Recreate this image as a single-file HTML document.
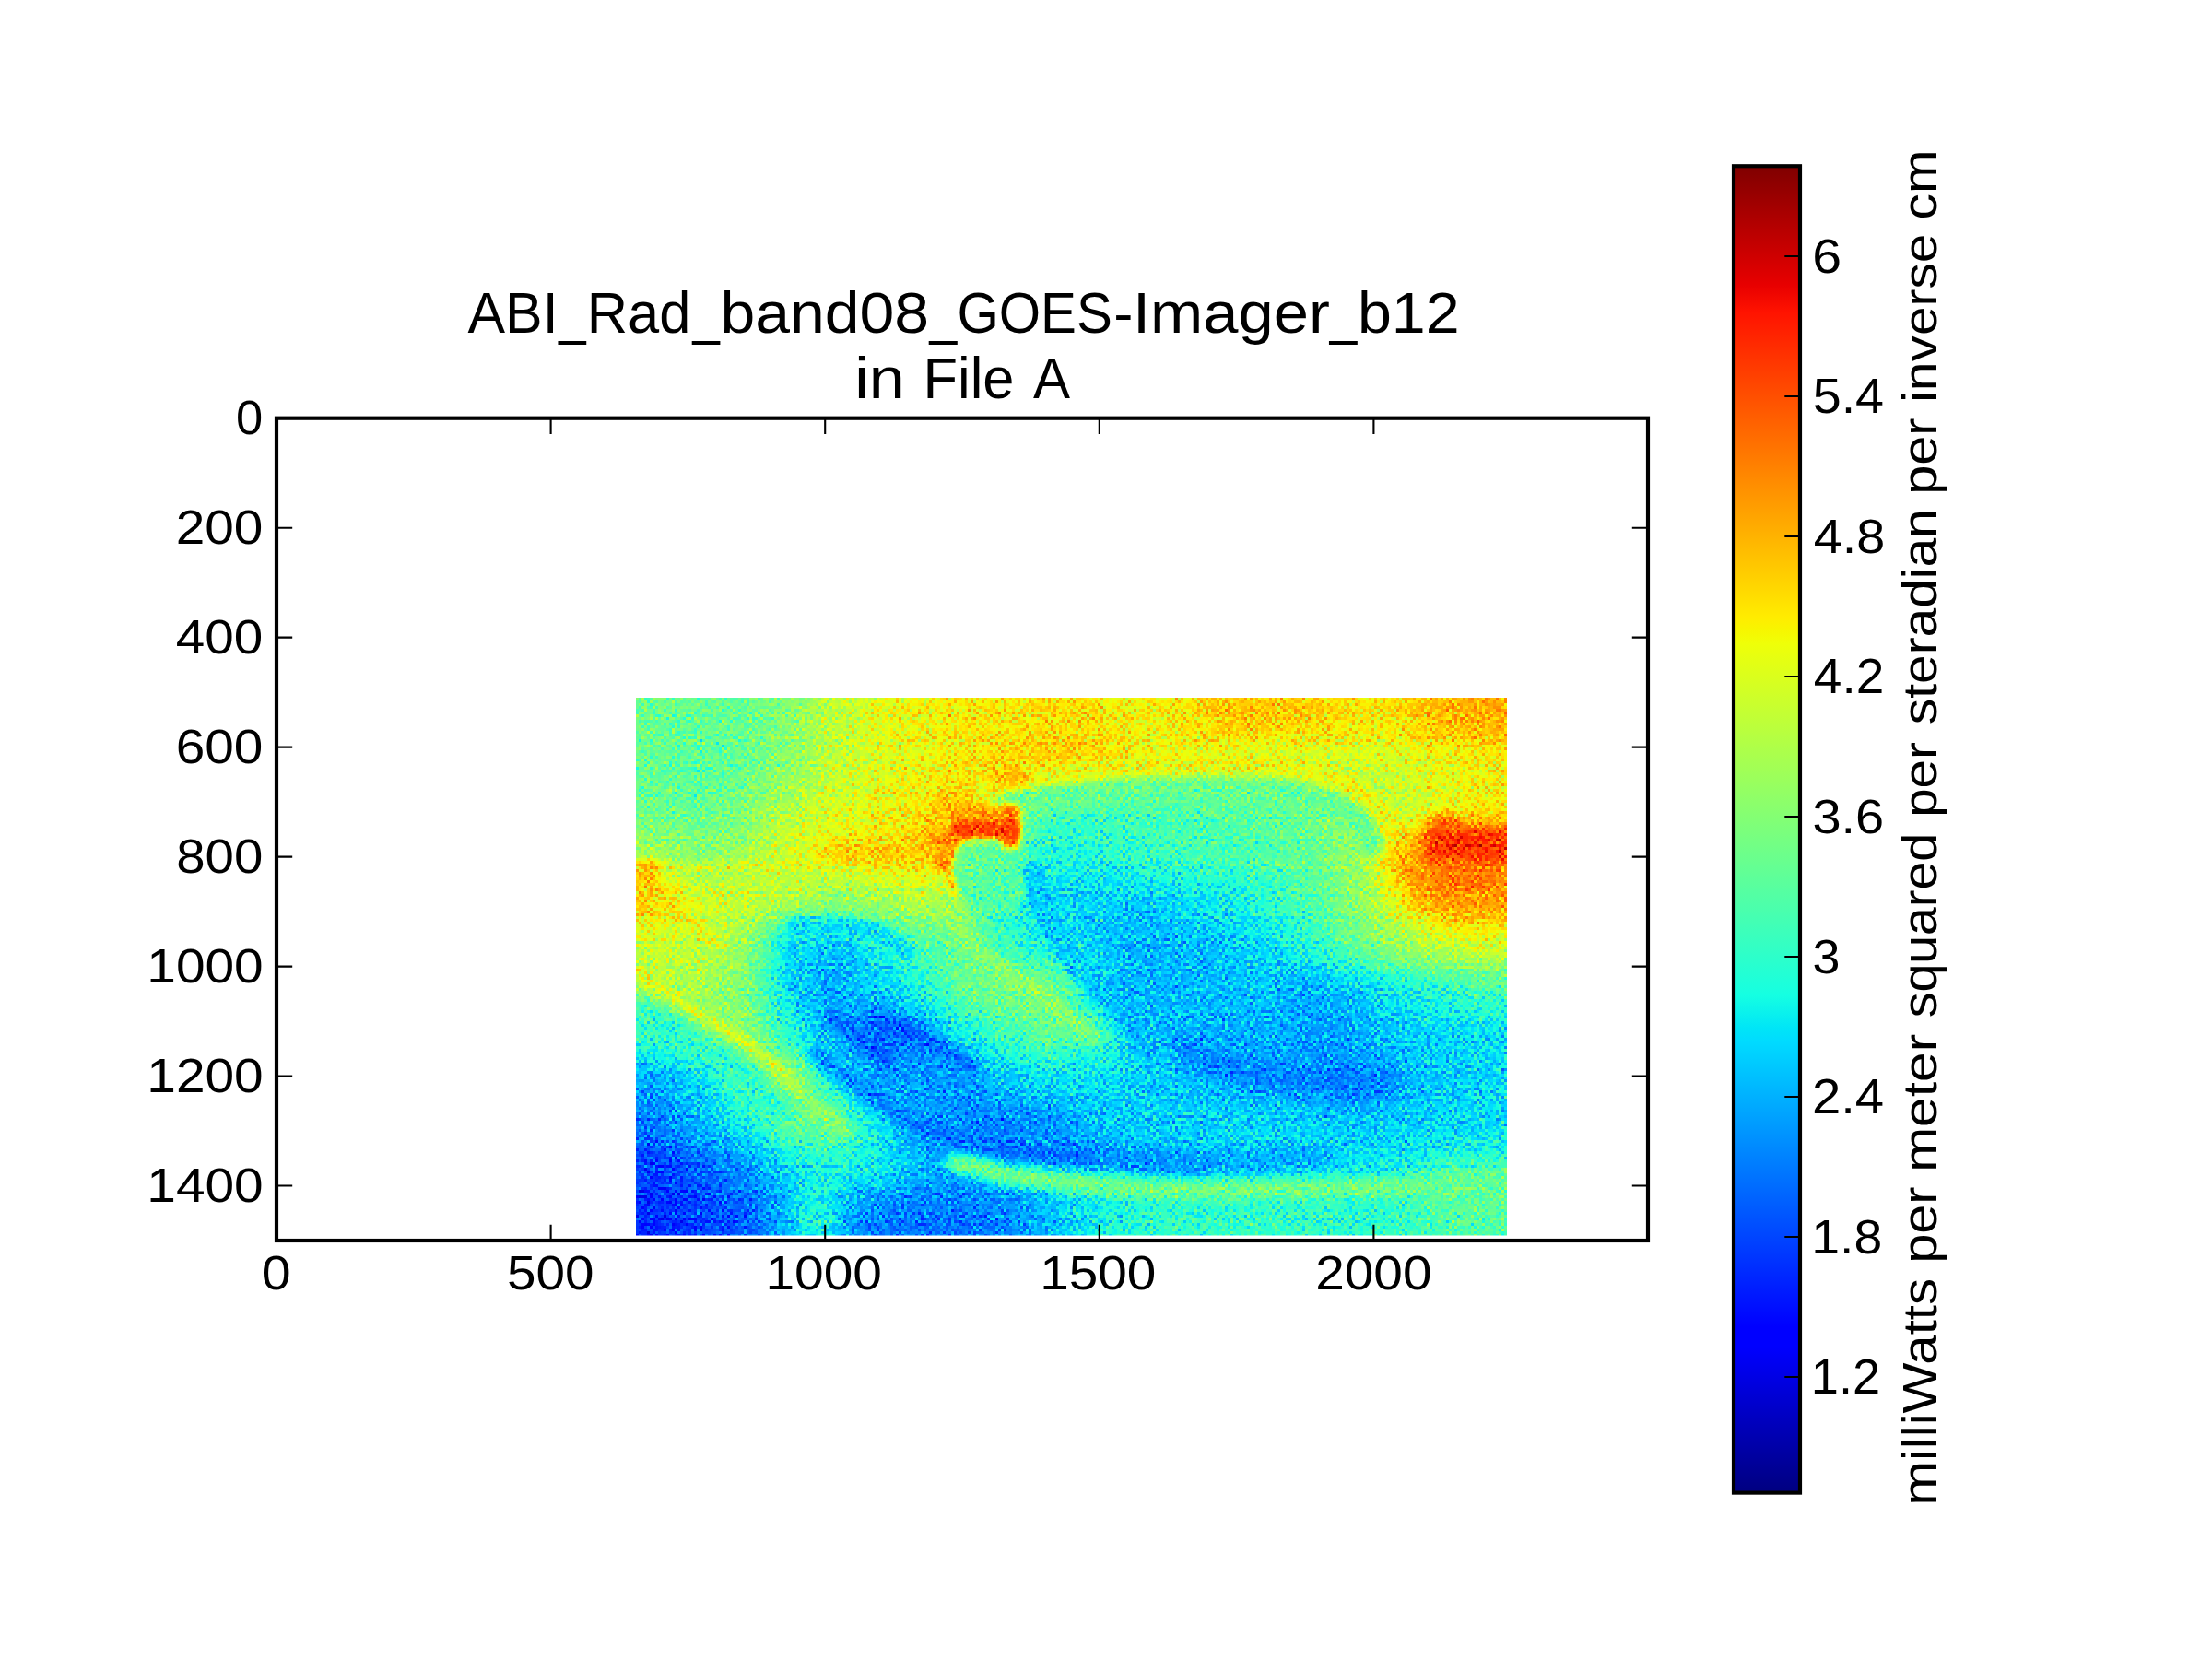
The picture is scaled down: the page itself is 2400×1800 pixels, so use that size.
<!DOCTYPE html>
<html><head><meta charset="utf-8"><title>ABI_Rad_band08_GOES-Imager_b12 in File A</title>
<style>html,body{margin:0;padding:0;background:#fff}body{width:2400px;height:1800px;overflow:hidden;font-family:"Liberation Sans",sans-serif}svg{display:block}</style></head>
<body>
<svg width="2400" height="1800" viewBox="0 0 2400 1800" font-family="'Liberation Sans', sans-serif" fill="#000">
<defs>
<linearGradient id="jet" x1="0" y1="1" x2="0" y2="0">
<stop offset="0" stop-color="#000080"/>
<stop offset="0.11" stop-color="#0000ff"/>
<stop offset="0.125" stop-color="#0000ff"/>
<stop offset="0.34" stop-color="#00dbff"/>
<stop offset="0.35" stop-color="#00e5f7"/>
<stop offset="0.375" stop-color="#15ffe2"/>
<stop offset="0.64" stop-color="#efff08"/>
<stop offset="0.65" stop-color="#f7f600"/>
<stop offset="0.66" stop-color="#ffec00"/>
<stop offset="0.89" stop-color="#ff1300"/>
<stop offset="0.91" stop-color="#e80000"/>
<stop offset="1" stop-color="#800000"/>
</linearGradient>
<filter id="jetf" filterUnits="userSpaceOnUse" x="620" y="690" width="1090" height="720" color-interpolation-filters="sRGB">
<feTurbulence type="fractalNoise" baseFrequency="0.37" numOctaves="1" seed="7" result="t"/>
<feColorMatrix in="t" type="matrix" values="1 0 0 0 0 1 0 0 0 0 1 0 0 0 0 0 0 0 0 1" result="n"/>
<feComposite in="SourceGraphic" in2="n" operator="arithmetic" k1="0" k2="1" k3="0.42" k4="-0.21" result="s"/>
<feFlood x="691" y="758" width="1" height="1" flood-color="#000" result="d"/>
<feComposite in="d" in2="d" operator="over" x="690" y="757" width="3" height="3" result="tile"/>
<feTile in="tile" result="dots"/>
<feComposite in="s" in2="dots" operator="in"/>
<feMorphology operator="dilate" radius="1"/>

<feComponentTransfer>
<feFuncR type="table" tableValues="0 0 0 0 0 0 0 0 0 0 0 0 0 0 0 0 0 0 0 0 0 0 0 0 0 0 0 0 0 0 0 0 0 0 0 0 0.032 0.065 0.097 0.129 0.161 0.194 0.226 0.258 0.29 0.323 0.355 0.387 0.419 0.452 0.484 0.516 0.548 0.581 0.613 0.645 0.677 0.71 0.742 0.774 0.806 0.839 0.871 0.903 0.935 0.968 1 1 1 1 1 1 1 1 1 1 1 1 1 1 1 1 1 1 1 1 1 1 1 1 0.955 0.909 0.864 0.818 0.773 0.727 0.682 0.636 0.591 0.545 0.5"/>
<feFuncG type="table" tableValues="0 0 0 0 0 0 0 0 0 0 0 0 0 0.02 0.06 0.1 0.14 0.18 0.22 0.26 0.3 0.34 0.38 0.42 0.46 0.5 0.54 0.58 0.62 0.66 0.7 0.74 0.78 0.82 0.86 0.9 0.94 0.98 1 1 1 1 1 1 1 1 1 1 1 1 1 1 1 1 1 1 1 1 1 1 1 1 1 1 1 0.963 0.926 0.889 0.852 0.815 0.778 0.741 0.704 0.667 0.63 0.593 0.556 0.519 0.481 0.444 0.407 0.37 0.333 0.296 0.259 0.222 0.185 0.148 0.111 0.074 0.037 0 0 0 0 0 0 0 0 0 0"/>
<feFuncB type="table" tableValues="0.5 0.545 0.591 0.636 0.682 0.727 0.773 0.818 0.864 0.909 0.955 1 1 1 1 1 1 1 1 1 1 1 1 1 1 1 1 1 1 1 1 1 1 1 1 0.968 0.935 0.903 0.871 0.839 0.806 0.774 0.742 0.71 0.677 0.645 0.613 0.581 0.548 0.516 0.484 0.452 0.419 0.387 0.355 0.323 0.29 0.258 0.226 0.194 0.161 0.129 0.097 0.065 0.032 0 0 0 0 0 0 0 0 0 0 0 0 0 0 0 0 0 0 0 0 0 0 0 0 0 0 0 0 0 0 0 0 0 0 0 0"/>
</feComponentTransfer></filter>
<filter id="b2" filterUnits="userSpaceOnUse" x="620" y="690" width="1090" height="720" color-interpolation-filters="sRGB"><feGaussianBlur stdDeviation="2"/></filter>
<filter id="b3" filterUnits="userSpaceOnUse" x="620" y="690" width="1090" height="720" color-interpolation-filters="sRGB"><feGaussianBlur stdDeviation="3"/></filter>
<filter id="b4" filterUnits="userSpaceOnUse" x="620" y="690" width="1090" height="720" color-interpolation-filters="sRGB"><feGaussianBlur stdDeviation="4"/></filter>
<filter id="b5" filterUnits="userSpaceOnUse" x="620" y="690" width="1090" height="720" color-interpolation-filters="sRGB"><feGaussianBlur stdDeviation="5"/></filter>
<filter id="b6" filterUnits="userSpaceOnUse" x="620" y="690" width="1090" height="720" color-interpolation-filters="sRGB"><feGaussianBlur stdDeviation="6"/></filter>
<filter id="b8" filterUnits="userSpaceOnUse" x="620" y="690" width="1090" height="720" color-interpolation-filters="sRGB"><feGaussianBlur stdDeviation="8"/></filter>
<filter id="b10" filterUnits="userSpaceOnUse" x="620" y="690" width="1090" height="720" color-interpolation-filters="sRGB"><feGaussianBlur stdDeviation="10"/></filter>
<filter id="b12" filterUnits="userSpaceOnUse" x="620" y="690" width="1090" height="720" color-interpolation-filters="sRGB"><feGaussianBlur stdDeviation="12"/></filter>
<filter id="b14" filterUnits="userSpaceOnUse" x="620" y="690" width="1090" height="720" color-interpolation-filters="sRGB"><feGaussianBlur stdDeviation="14"/></filter>
<filter id="b16" filterUnits="userSpaceOnUse" x="620" y="690" width="1090" height="720" color-interpolation-filters="sRGB"><feGaussianBlur stdDeviation="16"/></filter>
<filter id="b20" filterUnits="userSpaceOnUse" x="620" y="690" width="1090" height="720" color-interpolation-filters="sRGB"><feGaussianBlur stdDeviation="20"/></filter>
<filter id="b24" filterUnits="userSpaceOnUse" x="620" y="690" width="1090" height="720" color-interpolation-filters="sRGB"><feGaussianBlur stdDeviation="24"/></filter>
<filter id="b30" filterUnits="userSpaceOnUse" x="620" y="690" width="1090" height="720" color-interpolation-filters="sRGB"><feGaussianBlur stdDeviation="30"/></filter>
<filter id="b40" filterUnits="userSpaceOnUse" x="620" y="690" width="1090" height="720" color-interpolation-filters="sRGB"><feGaussianBlur stdDeviation="40"/></filter>
<clipPath id="hc"><rect x="690" y="757" width="945" height="583.5"/></clipPath>
</defs>
<rect width="2400" height="1800" fill="#fff"/>
<g clip-path="url(#hc)"><g filter="url(#jetf)">
<rect x="620" y="690" width="1090" height="720" fill="#666666"/>
<g filter="url(#b16)">
<rect x="620.0" y="687.0" width="117.8" height="119.2" fill="#7a7a7a"/>
<rect x="737.2" y="687.0" width="47.9" height="119.2" fill="#787878"/>
<rect x="784.5" y="687.0" width="47.9" height="119.2" fill="#7a7a7a"/>
<rect x="831.8" y="687.0" width="47.9" height="119.2" fill="#828282"/>
<rect x="879.0" y="687.0" width="47.9" height="119.2" fill="#949494"/>
<rect x="926.2" y="687.0" width="47.9" height="119.2" fill="#9e9e9e"/>
<rect x="973.5" y="687.0" width="47.9" height="119.2" fill="#a3a3a3"/>
<rect x="1020.8" y="687.0" width="47.9" height="119.2" fill="#a8a8a8"/>
<rect x="1068.0" y="687.0" width="47.9" height="119.2" fill="#a8a8a8"/>
<rect x="1115.2" y="687.0" width="47.9" height="119.2" fill="#ababab"/>
<rect x="1162.5" y="687.0" width="47.9" height="119.2" fill="#ababab"/>
<rect x="1209.8" y="687.0" width="47.9" height="119.2" fill="#a3a3a3"/>
<rect x="1257.0" y="687.0" width="47.9" height="119.2" fill="#a8a8a8"/>
<rect x="1304.2" y="687.0" width="47.9" height="119.2" fill="#b2b2b2"/>
<rect x="1351.5" y="687.0" width="47.9" height="119.2" fill="#b2b2b2"/>
<rect x="1398.8" y="687.0" width="47.9" height="119.2" fill="#b0b0b0"/>
<rect x="1446.0" y="687.0" width="47.9" height="119.2" fill="#a8a8a8"/>
<rect x="1493.2" y="687.0" width="47.9" height="119.2" fill="#ababab"/>
<rect x="1540.5" y="687.0" width="47.9" height="119.2" fill="#b5b5b5"/>
<rect x="1587.8" y="687.0" width="117.8" height="119.2" fill="#bababa"/>
<rect x="620.0" y="805.6" width="117.8" height="49.2" fill="#787878"/>
<rect x="737.2" y="805.6" width="47.9" height="49.2" fill="#757575"/>
<rect x="784.5" y="805.6" width="47.9" height="49.2" fill="#7a7a7a"/>
<rect x="831.8" y="805.6" width="47.9" height="49.2" fill="#858585"/>
<rect x="879.0" y="805.6" width="47.9" height="49.2" fill="#949494"/>
<rect x="926.2" y="805.6" width="47.9" height="49.2" fill="#9c9c9c"/>
<rect x="973.5" y="805.6" width="47.9" height="49.2" fill="#a1a1a1"/>
<rect x="1020.8" y="805.6" width="47.9" height="49.2" fill="#a6a6a6"/>
<rect x="1068.0" y="805.6" width="47.9" height="49.2" fill="#b0b0b0"/>
<rect x="1115.2" y="805.6" width="47.9" height="49.2" fill="#b2b2b2"/>
<rect x="1162.5" y="805.6" width="47.9" height="49.2" fill="#b0b0b0"/>
<rect x="1209.8" y="805.6" width="47.9" height="49.2" fill="#a6a6a6"/>
<rect x="1257.0" y="805.6" width="47.9" height="49.2" fill="#9e9e9e"/>
<rect x="1304.2" y="805.6" width="47.9" height="49.2" fill="#9c9c9c"/>
<rect x="1351.5" y="805.6" width="47.9" height="49.2" fill="#969696"/>
<rect x="1398.8" y="805.6" width="47.9" height="49.2" fill="#969696"/>
<rect x="1446.0" y="805.6" width="47.9" height="49.2" fill="#999999"/>
<rect x="1493.2" y="805.6" width="47.9" height="49.2" fill="#9c9c9c"/>
<rect x="1540.5" y="805.6" width="47.9" height="49.2" fill="#a1a1a1"/>
<rect x="1587.8" y="805.6" width="117.8" height="49.2" fill="#a3a3a3"/>
<rect x="620.0" y="854.2" width="117.8" height="49.2" fill="#7a7a7a"/>
<rect x="737.2" y="854.2" width="47.9" height="49.2" fill="#787878"/>
<rect x="784.5" y="854.2" width="47.9" height="49.2" fill="#808080"/>
<rect x="831.8" y="854.2" width="47.9" height="49.2" fill="#919191"/>
<rect x="879.0" y="854.2" width="47.9" height="49.2" fill="#9c9c9c"/>
<rect x="926.2" y="854.2" width="47.9" height="49.2" fill="#a1a1a1"/>
<rect x="973.5" y="854.2" width="47.9" height="49.2" fill="#a8a8a8"/>
<rect x="1020.8" y="854.2" width="47.9" height="49.2" fill="#b8b8b8"/>
<rect x="1068.0" y="854.2" width="47.9" height="49.2" fill="#919191"/>
<rect x="1115.2" y="854.2" width="47.9" height="49.2" fill="#6e6e6e"/>
<rect x="1162.5" y="854.2" width="47.9" height="49.2" fill="#6e6e6e"/>
<rect x="1209.8" y="854.2" width="47.9" height="49.2" fill="#6e6e6e"/>
<rect x="1257.0" y="854.2" width="47.9" height="49.2" fill="#707070"/>
<rect x="1304.2" y="854.2" width="47.9" height="49.2" fill="#737373"/>
<rect x="1351.5" y="854.2" width="47.9" height="49.2" fill="#757575"/>
<rect x="1398.8" y="854.2" width="47.9" height="49.2" fill="#7a7a7a"/>
<rect x="1446.0" y="854.2" width="47.9" height="49.2" fill="#858585"/>
<rect x="1493.2" y="854.2" width="47.9" height="49.2" fill="#949494"/>
<rect x="1540.5" y="854.2" width="47.9" height="49.2" fill="#9e9e9e"/>
<rect x="1587.8" y="854.2" width="117.8" height="49.2" fill="#a8a8a8"/>
<rect x="620.0" y="902.9" width="117.8" height="49.2" fill="#8a8a8a"/>
<rect x="737.2" y="902.9" width="47.9" height="49.2" fill="#828282"/>
<rect x="784.5" y="902.9" width="47.9" height="49.2" fill="#8c8c8c"/>
<rect x="831.8" y="902.9" width="47.9" height="49.2" fill="#9c9c9c"/>
<rect x="879.0" y="902.9" width="47.9" height="49.2" fill="#a3a3a3"/>
<rect x="926.2" y="902.9" width="47.9" height="49.2" fill="#ababab"/>
<rect x="973.5" y="902.9" width="47.9" height="49.2" fill="#b0b0b0"/>
<rect x="1020.8" y="902.9" width="47.9" height="49.2" fill="#9e9e9e"/>
<rect x="1068.0" y="902.9" width="47.9" height="49.2" fill="#737373"/>
<rect x="1115.2" y="902.9" width="47.9" height="49.2" fill="#616161"/>
<rect x="1162.5" y="902.9" width="47.9" height="49.2" fill="#636363"/>
<rect x="1209.8" y="902.9" width="47.9" height="49.2" fill="#696969"/>
<rect x="1257.0" y="902.9" width="47.9" height="49.2" fill="#6e6e6e"/>
<rect x="1304.2" y="902.9" width="47.9" height="49.2" fill="#707070"/>
<rect x="1351.5" y="902.9" width="47.9" height="49.2" fill="#737373"/>
<rect x="1398.8" y="902.9" width="47.9" height="49.2" fill="#787878"/>
<rect x="1446.0" y="902.9" width="47.9" height="49.2" fill="#878787"/>
<rect x="1493.2" y="902.9" width="47.9" height="49.2" fill="#a8a8a8"/>
<rect x="1540.5" y="902.9" width="47.9" height="49.2" fill="#c7c7c7"/>
<rect x="1587.8" y="902.9" width="117.8" height="49.2" fill="#cccccc"/>
<rect x="620.0" y="951.5" width="117.8" height="49.2" fill="#b2b2b2"/>
<rect x="737.2" y="951.5" width="47.9" height="49.2" fill="#9c9c9c"/>
<rect x="784.5" y="951.5" width="47.9" height="49.2" fill="#999999"/>
<rect x="831.8" y="951.5" width="47.9" height="49.2" fill="#919191"/>
<rect x="879.0" y="951.5" width="47.9" height="49.2" fill="#878787"/>
<rect x="926.2" y="951.5" width="47.9" height="49.2" fill="#8c8c8c"/>
<rect x="973.5" y="951.5" width="47.9" height="49.2" fill="#949494"/>
<rect x="1020.8" y="951.5" width="47.9" height="49.2" fill="#8c8c8c"/>
<rect x="1068.0" y="951.5" width="47.9" height="49.2" fill="#616161"/>
<rect x="1115.2" y="951.5" width="47.9" height="49.2" fill="#585858"/>
<rect x="1162.5" y="951.5" width="47.9" height="49.2" fill="#555555"/>
<rect x="1209.8" y="951.5" width="47.9" height="49.2" fill="#535353"/>
<rect x="1257.0" y="951.5" width="47.9" height="49.2" fill="#585858"/>
<rect x="1304.2" y="951.5" width="47.9" height="49.2" fill="#5e5e5e"/>
<rect x="1351.5" y="951.5" width="47.9" height="49.2" fill="#666666"/>
<rect x="1398.8" y="951.5" width="47.9" height="49.2" fill="#737373"/>
<rect x="1446.0" y="951.5" width="47.9" height="49.2" fill="#858585"/>
<rect x="1493.2" y="951.5" width="47.9" height="49.2" fill="#9e9e9e"/>
<rect x="1540.5" y="951.5" width="47.9" height="49.2" fill="#bfbfbf"/>
<rect x="1587.8" y="951.5" width="117.8" height="49.2" fill="#bdbdbd"/>
<rect x="620.0" y="1000.1" width="117.8" height="49.2" fill="#969696"/>
<rect x="737.2" y="1000.1" width="47.9" height="49.2" fill="#969696"/>
<rect x="784.5" y="1000.1" width="47.9" height="49.2" fill="#878787"/>
<rect x="831.8" y="1000.1" width="47.9" height="49.2" fill="#5c5c5c"/>
<rect x="879.0" y="1000.1" width="47.9" height="49.2" fill="#4e4e4e"/>
<rect x="926.2" y="1000.1" width="47.9" height="49.2" fill="#5e5e5e"/>
<rect x="973.5" y="1000.1" width="47.9" height="49.2" fill="#707070"/>
<rect x="1020.8" y="1000.1" width="47.9" height="49.2" fill="#7a7a7a"/>
<rect x="1068.0" y="1000.1" width="47.9" height="49.2" fill="#6b6b6b"/>
<rect x="1115.2" y="1000.1" width="47.9" height="49.2" fill="#5e5e5e"/>
<rect x="1162.5" y="1000.1" width="47.9" height="49.2" fill="#535353"/>
<rect x="1209.8" y="1000.1" width="47.9" height="49.2" fill="#4c4c4c"/>
<rect x="1257.0" y="1000.1" width="47.9" height="49.2" fill="#4e4e4e"/>
<rect x="1304.2" y="1000.1" width="47.9" height="49.2" fill="#525252"/>
<rect x="1351.5" y="1000.1" width="47.9" height="49.2" fill="#585858"/>
<rect x="1398.8" y="1000.1" width="47.9" height="49.2" fill="#666666"/>
<rect x="1446.0" y="1000.1" width="47.9" height="49.2" fill="#7a7a7a"/>
<rect x="1493.2" y="1000.1" width="47.9" height="49.2" fill="#8a8a8a"/>
<rect x="1540.5" y="1000.1" width="47.9" height="49.2" fill="#969696"/>
<rect x="1587.8" y="1000.1" width="117.8" height="49.2" fill="#9c9c9c"/>
<rect x="620.0" y="1048.8" width="117.8" height="49.2" fill="#919191"/>
<rect x="737.2" y="1048.8" width="47.9" height="49.2" fill="#8c8c8c"/>
<rect x="784.5" y="1048.8" width="47.9" height="49.2" fill="#808080"/>
<rect x="831.8" y="1048.8" width="47.9" height="49.2" fill="#585858"/>
<rect x="879.0" y="1048.8" width="47.9" height="49.2" fill="#4a4a4a"/>
<rect x="926.2" y="1048.8" width="47.9" height="49.2" fill="#535353"/>
<rect x="973.5" y="1048.8" width="47.9" height="49.2" fill="#616161"/>
<rect x="1020.8" y="1048.8" width="47.9" height="49.2" fill="#7a7a7a"/>
<rect x="1068.0" y="1048.8" width="47.9" height="49.2" fill="#808080"/>
<rect x="1115.2" y="1048.8" width="47.9" height="49.2" fill="#808080"/>
<rect x="1162.5" y="1048.8" width="47.9" height="49.2" fill="#616161"/>
<rect x="1209.8" y="1048.8" width="47.9" height="49.2" fill="#4e4e4e"/>
<rect x="1257.0" y="1048.8" width="47.9" height="49.2" fill="#4e4e4e"/>
<rect x="1304.2" y="1048.8" width="47.9" height="49.2" fill="#505050"/>
<rect x="1351.5" y="1048.8" width="47.9" height="49.2" fill="#505050"/>
<rect x="1398.8" y="1048.8" width="47.9" height="49.2" fill="#4a4a4a"/>
<rect x="1446.0" y="1048.8" width="47.9" height="49.2" fill="#535353"/>
<rect x="1493.2" y="1048.8" width="47.9" height="49.2" fill="#5e5e5e"/>
<rect x="1540.5" y="1048.8" width="47.9" height="49.2" fill="#666666"/>
<rect x="1587.8" y="1048.8" width="117.8" height="49.2" fill="#707070"/>
<rect x="620.0" y="1097.4" width="117.8" height="49.2" fill="#6b6b6b"/>
<rect x="737.2" y="1097.4" width="47.9" height="49.2" fill="#858585"/>
<rect x="784.5" y="1097.4" width="47.9" height="49.2" fill="#878787"/>
<rect x="831.8" y="1097.4" width="47.9" height="49.2" fill="#666666"/>
<rect x="879.0" y="1097.4" width="47.9" height="49.2" fill="#4e4e4e"/>
<rect x="926.2" y="1097.4" width="47.9" height="49.2" fill="#383838"/>
<rect x="973.5" y="1097.4" width="47.9" height="49.2" fill="#424242"/>
<rect x="1020.8" y="1097.4" width="47.9" height="49.2" fill="#5e5e5e"/>
<rect x="1068.0" y="1097.4" width="47.9" height="49.2" fill="#6e6e6e"/>
<rect x="1115.2" y="1097.4" width="47.9" height="49.2" fill="#787878"/>
<rect x="1162.5" y="1097.4" width="47.9" height="49.2" fill="#6e6e6e"/>
<rect x="1209.8" y="1097.4" width="47.9" height="49.2" fill="#585858"/>
<rect x="1257.0" y="1097.4" width="47.9" height="49.2" fill="#4e4e4e"/>
<rect x="1304.2" y="1097.4" width="47.9" height="49.2" fill="#4c4c4c"/>
<rect x="1351.5" y="1097.4" width="47.9" height="49.2" fill="#4c4c4c"/>
<rect x="1398.8" y="1097.4" width="47.9" height="49.2" fill="#474747"/>
<rect x="1446.0" y="1097.4" width="47.9" height="49.2" fill="#4c4c4c"/>
<rect x="1493.2" y="1097.4" width="47.9" height="49.2" fill="#535353"/>
<rect x="1540.5" y="1097.4" width="47.9" height="49.2" fill="#555555"/>
<rect x="1587.8" y="1097.4" width="117.8" height="49.2" fill="#585858"/>
<rect x="620.0" y="1146.0" width="117.8" height="49.2" fill="#4a4a4a"/>
<rect x="737.2" y="1146.0" width="47.9" height="49.2" fill="#575757"/>
<rect x="784.5" y="1146.0" width="47.9" height="49.2" fill="#7a7a7a"/>
<rect x="831.8" y="1146.0" width="47.9" height="49.2" fill="#8c8c8c"/>
<rect x="879.0" y="1146.0" width="47.9" height="49.2" fill="#616161"/>
<rect x="926.2" y="1146.0" width="47.9" height="49.2" fill="#474747"/>
<rect x="973.5" y="1146.0" width="47.9" height="49.2" fill="#474747"/>
<rect x="1020.8" y="1146.0" width="47.9" height="49.2" fill="#454545"/>
<rect x="1068.0" y="1146.0" width="47.9" height="49.2" fill="#535353"/>
<rect x="1115.2" y="1146.0" width="47.9" height="49.2" fill="#5a5a5a"/>
<rect x="1162.5" y="1146.0" width="47.9" height="49.2" fill="#585858"/>
<rect x="1209.8" y="1146.0" width="47.9" height="49.2" fill="#555555"/>
<rect x="1257.0" y="1146.0" width="47.9" height="49.2" fill="#525252"/>
<rect x="1304.2" y="1146.0" width="47.9" height="49.2" fill="#4c4c4c"/>
<rect x="1351.5" y="1146.0" width="47.9" height="49.2" fill="#4a4a4a"/>
<rect x="1398.8" y="1146.0" width="47.9" height="49.2" fill="#474747"/>
<rect x="1446.0" y="1146.0" width="47.9" height="49.2" fill="#424242"/>
<rect x="1493.2" y="1146.0" width="47.9" height="49.2" fill="#4e4e4e"/>
<rect x="1540.5" y="1146.0" width="47.9" height="49.2" fill="#535353"/>
<rect x="1587.8" y="1146.0" width="117.8" height="49.2" fill="#575757"/>
<rect x="620.0" y="1194.6" width="117.8" height="49.2" fill="#404040"/>
<rect x="737.2" y="1194.6" width="47.9" height="49.2" fill="#505050"/>
<rect x="784.5" y="1194.6" width="47.9" height="49.2" fill="#5e5e5e"/>
<rect x="831.8" y="1194.6" width="47.9" height="49.2" fill="#7a7a7a"/>
<rect x="879.0" y="1194.6" width="47.9" height="49.2" fill="#7a7a7a"/>
<rect x="926.2" y="1194.6" width="47.9" height="49.2" fill="#5e5e5e"/>
<rect x="973.5" y="1194.6" width="47.9" height="49.2" fill="#4a4a4a"/>
<rect x="1020.8" y="1194.6" width="47.9" height="49.2" fill="#424242"/>
<rect x="1068.0" y="1194.6" width="47.9" height="49.2" fill="#404040"/>
<rect x="1115.2" y="1194.6" width="47.9" height="49.2" fill="#454545"/>
<rect x="1162.5" y="1194.6" width="47.9" height="49.2" fill="#505050"/>
<rect x="1209.8" y="1194.6" width="47.9" height="49.2" fill="#535353"/>
<rect x="1257.0" y="1194.6" width="47.9" height="49.2" fill="#555555"/>
<rect x="1304.2" y="1194.6" width="47.9" height="49.2" fill="#555555"/>
<rect x="1351.5" y="1194.6" width="47.9" height="49.2" fill="#575757"/>
<rect x="1398.8" y="1194.6" width="47.9" height="49.2" fill="#555555"/>
<rect x="1446.0" y="1194.6" width="47.9" height="49.2" fill="#525252"/>
<rect x="1493.2" y="1194.6" width="47.9" height="49.2" fill="#535353"/>
<rect x="1540.5" y="1194.6" width="47.9" height="49.2" fill="#555555"/>
<rect x="1587.8" y="1194.6" width="117.8" height="49.2" fill="#575757"/>
<rect x="620.0" y="1243.2" width="117.8" height="49.2" fill="#303030"/>
<rect x="737.2" y="1243.2" width="47.9" height="49.2" fill="#383838"/>
<rect x="784.5" y="1243.2" width="47.9" height="49.2" fill="#454545"/>
<rect x="831.8" y="1243.2" width="47.9" height="49.2" fill="#575757"/>
<rect x="879.0" y="1243.2" width="47.9" height="49.2" fill="#636363"/>
<rect x="926.2" y="1243.2" width="47.9" height="49.2" fill="#5e5e5e"/>
<rect x="973.5" y="1243.2" width="47.9" height="49.2" fill="#4e4e4e"/>
<rect x="1020.8" y="1243.2" width="47.9" height="49.2" fill="#4a4a4a"/>
<rect x="1068.0" y="1243.2" width="47.9" height="49.2" fill="#4e4e4e"/>
<rect x="1115.2" y="1243.2" width="47.9" height="49.2" fill="#535353"/>
<rect x="1162.5" y="1243.2" width="47.9" height="49.2" fill="#585858"/>
<rect x="1209.8" y="1243.2" width="47.9" height="49.2" fill="#585858"/>
<rect x="1257.0" y="1243.2" width="47.9" height="49.2" fill="#5a5a5a"/>
<rect x="1304.2" y="1243.2" width="47.9" height="49.2" fill="#5a5a5a"/>
<rect x="1351.5" y="1243.2" width="47.9" height="49.2" fill="#5a5a5a"/>
<rect x="1398.8" y="1243.2" width="47.9" height="49.2" fill="#5c5c5c"/>
<rect x="1446.0" y="1243.2" width="47.9" height="49.2" fill="#5a5a5a"/>
<rect x="1493.2" y="1243.2" width="47.9" height="49.2" fill="#5f5f5f"/>
<rect x="1540.5" y="1243.2" width="47.9" height="49.2" fill="#666666"/>
<rect x="1587.8" y="1243.2" width="117.8" height="49.2" fill="#6b6b6b"/>
<rect x="620.0" y="1291.9" width="117.8" height="119.2" fill="#2b2b2b"/>
<rect x="737.2" y="1291.9" width="47.9" height="119.2" fill="#303030"/>
<rect x="784.5" y="1291.9" width="47.9" height="119.2" fill="#383838"/>
<rect x="831.8" y="1291.9" width="47.9" height="119.2" fill="#4e4e4e"/>
<rect x="879.0" y="1291.9" width="47.9" height="119.2" fill="#4e4e4e"/>
<rect x="926.2" y="1291.9" width="47.9" height="119.2" fill="#404040"/>
<rect x="973.5" y="1291.9" width="47.9" height="119.2" fill="#3d3d3d"/>
<rect x="1020.8" y="1291.9" width="47.9" height="119.2" fill="#3d3d3d"/>
<rect x="1068.0" y="1291.9" width="47.9" height="119.2" fill="#424242"/>
<rect x="1115.2" y="1291.9" width="47.9" height="119.2" fill="#505050"/>
<rect x="1162.5" y="1291.9" width="47.9" height="119.2" fill="#5e5e5e"/>
<rect x="1209.8" y="1291.9" width="47.9" height="119.2" fill="#666666"/>
<rect x="1257.0" y="1291.9" width="47.9" height="119.2" fill="#696969"/>
<rect x="1304.2" y="1291.9" width="47.9" height="119.2" fill="#696969"/>
<rect x="1351.5" y="1291.9" width="47.9" height="119.2" fill="#696969"/>
<rect x="1398.8" y="1291.9" width="47.9" height="119.2" fill="#696969"/>
<rect x="1446.0" y="1291.9" width="47.9" height="119.2" fill="#666666"/>
<rect x="1493.2" y="1291.9" width="47.9" height="119.2" fill="#6b6b6b"/>
<rect x="1540.5" y="1291.9" width="47.9" height="119.2" fill="#707070"/>
<rect x="1587.8" y="1291.9" width="117.8" height="119.2" fill="#737373"/>
</g>
<path d="M1068.8 860.8C1070.7 859.1 1075.2 853.0 1080.0 850.5C1084.8 848.0 1091.5 846.9 1097.6 845.7C1103.8 844.5 1106.2 844.6 1116.7 843.1C1127.2 841.7 1142.2 839.0 1160.6 837.1C1179.1 835.1 1205.1 832.7 1227.3 831.5C1249.5 830.3 1271.8 830.0 1294.0 830.0C1316.2 830.0 1341.8 830.7 1360.5 831.5C1379.2 832.3 1390.9 832.0 1406.2 834.7C1421.5 837.4 1438.0 841.3 1452.2 847.6C1466.4 853.8 1481.3 862.6 1491.1 872.3C1501.0 881.9 1507.9 899.9 1511.2 905.4" fill="none" stroke="#a2a2a2" stroke-width="22" stroke-linecap="round" stroke-linejoin="round" opacity="1" filter="url(#b4)"/>
<path d="M1086.5 878.5C1087.3 877.5 1088.9 874.0 1091.6 872.6C1094.2 871.3 1097.4 871.1 1102.2 870.3C1106.9 869.5 1110.0 869.3 1120.1 867.9C1130.3 866.5 1145.2 863.8 1163.3 861.9C1181.3 860.0 1206.8 857.6 1228.6 856.5C1250.4 855.3 1272.2 855.0 1294.0 855.0C1315.8 855.0 1341.5 855.8 1359.5 856.5C1377.5 857.2 1388.2 857.0 1402.0 859.3C1415.7 861.7 1430.3 865.4 1442.2 870.5C1454.1 875.6 1465.6 882.1 1473.6 890.0C1481.5 898.0 1487.0 913.4 1489.7 918.1" fill="none" stroke="#787878" stroke-width="22" stroke-linecap="round" stroke-linejoin="round" opacity="1" filter="url(#b4)"/>
<ellipse cx="1590" cy="940" rx="80" ry="48" fill="#bdbdbd" opacity="1" filter="url(#b16)"/>
<polygon points="1546.0,899.0 1640.0,899.0 1640.0,937.0 1546.0,937.0" fill="#dbdbdb" opacity="1" filter="url(#b6)"/>
<ellipse cx="1568" cy="893" rx="17" ry="9" fill="#d1d1d1" opacity="1" filter="url(#b4)"/>
<ellipse cx="1588" cy="950" rx="46" ry="16" fill="#c9c9c9" opacity="1" filter="url(#b8)"/>
<ellipse cx="1040" cy="905" rx="50" ry="26" fill="#b2b2b2" opacity="1" filter="url(#b10)"/>
<ellipse cx="1060" cy="883" rx="38" ry="10" fill="#bfbfbf" opacity="1" filter="url(#b4)"/>
<polygon points="1010.0,906.0 1042.0,906.0 1037.0,925.0 1031.0,946.0 1015.0,946.0 1011.0,925.0" fill="#c4c4c4" opacity="1" filter="url(#b3)"/>
<polygon points="1026.0,944.0 1035.0,944.0 1041.0,970.0 1031.0,972.0" fill="#b2b2b2" opacity="1" filter="url(#b3)"/>
<polygon points="1086.0,870.0 1106.0,874.0 1107.0,921.0 1086.0,921.0" fill="#c9c9c9" opacity="1" filter="url(#b3)"/>
<polygon points="1032.0,890.0 1106.0,890.0 1106.0,910.0 1040.0,912.0 1030.0,905.0" fill="#d6d6d6" opacity="1" filter="url(#b3)"/>
<polygon points="1043.0,914.0 1060.0,909.0 1085.0,912.0 1088.0,924.0 1104.0,925.0 1112.0,900.0 1118.0,960.0 1100.0,995.0 1055.0,990.0 1042.0,970.0 1034.0,946.0 1037.0,926.0" fill="#737373" opacity="0.85" filter="url(#b3)"/>
<path d="M690.0 1052.0C692.1 1053.8 691.1 1054.4 702.6 1062.6C714.1 1070.8 740.2 1088.9 759.0 1101.0C777.8 1113.1 798.6 1122.6 815.6 1135.0C832.6 1147.4 853.3 1168.8 860.8 1175.6" fill="none" stroke="#a4a4a4" stroke-width="9" stroke-linecap="round" stroke-linejoin="round" opacity="1" filter="url(#b4)"/>
<path d="M850.0 1166.0C857.5 1173.2 883.5 1199.2 894.7 1209.5C905.9 1219.8 913.3 1224.9 917.0 1228.0" fill="none" stroke="#8c8c8c" stroke-width="14" stroke-linecap="round" stroke-linejoin="round" opacity="0.8" filter="url(#b6)"/>
<path d="M690.0 1092.0C698.3 1097.0 721.7 1110.7 740.0 1122.0C758.3 1133.3 781.7 1146.2 800.0 1160.0C818.3 1173.8 841.7 1197.5 850.0 1205.0" fill="none" stroke="#5e5e5e" stroke-width="22" stroke-linecap="round" stroke-linejoin="round" opacity="0.75" filter="url(#b8)"/>
<path d="M712.0 975.0C714.5 977.2 718.8 982.2 727.0 988.0C735.2 993.8 751.8 1003.5 761.0 1010.0C770.2 1016.5 778.5 1024.2 782.0 1027.0" fill="none" stroke="#a7a7a7" stroke-width="9" stroke-linecap="round" stroke-linejoin="round" opacity="0.85" filter="url(#b4)"/>
<ellipse cx="955" cy="925" rx="72" ry="11" fill="#b0b0b0" opacity="1" filter="url(#b6)"/>
<path d="M690.0 940.0L780.0 940.5L880.0 939.0" fill="none" stroke="#a7a7a7" stroke-width="5" stroke-linecap="round" stroke-linejoin="round" opacity="0.9" filter="url(#b3)"/>
<path d="M1050.0 1250.0C1066.7 1251.3 1108.3 1256.0 1150.0 1258.0C1191.7 1260.0 1251.7 1262.3 1300.0 1262.0C1348.3 1261.7 1416.7 1257.0 1440.0 1256.0" fill="none" stroke="#3d3d3d" stroke-width="18" stroke-linecap="round" stroke-linejoin="round" opacity="0.75" filter="url(#b10)"/>
<path d="M1038.0 1262.0C1042.7 1262.7 1056.3 1263.8 1066.0 1266.0C1075.7 1268.2 1066.2 1271.2 1096.0 1275.0C1125.8 1278.8 1191.7 1286.5 1245.0 1289.0C1298.3 1291.5 1350.2 1290.8 1416.0 1290.0C1481.8 1289.2 1602.7 1285.0 1640.0 1284.0" fill="none" stroke="#7d7d7d" stroke-width="22" stroke-linecap="round" stroke-linejoin="round" opacity="1" filter="url(#b6)"/>
<ellipse cx="1600" cy="1292" rx="60" ry="24" fill="#787878" opacity="1" filter="url(#b10)"/>
<path d="M1195.0 1070.0C1204.2 1079.3 1226.2 1111.3 1250.0 1126.0C1273.8 1140.7 1306.3 1149.3 1338.0 1158.0C1369.7 1166.7 1412.2 1175.7 1440.0 1178.0C1467.8 1180.3 1494.2 1173.0 1505.0 1172.0" fill="none" stroke="#3b3b3b" stroke-width="22" stroke-linecap="round" stroke-linejoin="round" opacity="0.8" filter="url(#b10)"/>
<path d="M1150.0 1243.0C1163.3 1245.0 1203.7 1252.0 1230.0 1255.0C1256.3 1258.0 1295.0 1260.0 1308.0 1261.0" fill="none" stroke="#3b3b3b" stroke-width="18" stroke-linecap="round" stroke-linejoin="round" opacity="0.6" filter="url(#b10)"/>
<path d="M901.0 1103.0L962.0 1148.0" fill="none" stroke="#363636" stroke-width="13" stroke-linecap="round" stroke-linejoin="round" opacity="0.8" filter="url(#b5)"/>
<path d="M951.0 1105.0C960.5 1109.2 991.0 1121.3 1008.0 1130.0C1025.0 1138.7 1045.5 1152.5 1053.0 1157.0" fill="none" stroke="#333333" stroke-width="15" stroke-linecap="round" stroke-linejoin="round" opacity="0.8" filter="url(#b5)"/>
<path d="M883.0 1142.0C898.2 1153.2 943.8 1192.2 974.0 1209.0C1004.2 1225.8 1029.7 1235.3 1064.0 1243.0C1098.3 1250.7 1160.7 1253.0 1180.0 1255.0" fill="none" stroke="#383838" stroke-width="16" stroke-linecap="round" stroke-linejoin="round" opacity="0.75" filter="url(#b6)"/>
<ellipse cx="885" cy="1312" rx="24" ry="40" fill="#616161" opacity="1" filter="url(#b10)"/>
<path d="M1122.0 945.0C1123.8 952.5 1125.5 973.0 1133.0 990.0C1140.5 1007.0 1155.7 1031.8 1167.0 1047.0C1178.3 1062.2 1187.8 1069.7 1201.0 1081.0C1214.2 1092.3 1234.8 1103.7 1246.0 1115.0C1257.2 1126.3 1264.3 1143.3 1268.0 1149.0" fill="none" stroke="#525252" stroke-width="24" stroke-linecap="round" stroke-linejoin="round" opacity="0.8" filter="url(#b7)"/>
<path d="M1019.5 979.0C1025.2 986.5 1040.2 1011.1 1053.4 1024.3C1066.6 1037.5 1085.4 1048.8 1098.6 1058.2C1111.8 1067.6 1121.2 1072.5 1132.5 1080.8C1143.8 1089.1 1157.1 1100.5 1166.5 1108.0C1175.9 1115.5 1185.2 1123.0 1189.0 1126.0" fill="none" stroke="#8c8c8c" stroke-width="14" stroke-linecap="round" stroke-linejoin="round" opacity="0.85" filter="url(#b6)"/>
<path d="M864.0 1004.0C870.0 1003.7 885.7 1001.0 900.0 1002.0C914.3 1003.0 935.8 1005.0 950.0 1010.0C964.2 1015.0 979.2 1028.3 985.0 1032.0" fill="none" stroke="#525252" stroke-width="18" stroke-linecap="round" stroke-linejoin="round" opacity="0.6" filter="url(#b7)"/>
<path d="M862.0 1004.0C861.2 1009.2 856.5 1024.7 857.0 1035.0C857.5 1045.3 860.3 1052.2 865.0 1066.0C869.7 1079.8 881.7 1109.3 885.0 1118.0" fill="none" stroke="#505050" stroke-width="14" stroke-linecap="round" stroke-linejoin="round" opacity="0.65" filter="url(#b6)"/>
<ellipse cx="1035" cy="872" rx="22" ry="10" fill="#b2b2b2" opacity="1" filter="url(#b6)"/>
<ellipse cx="702" cy="948" rx="14" ry="16" fill="#b8b8b8" opacity="1" filter="url(#b6)"/>
<ellipse cx="1095" cy="843" rx="24" ry="11" fill="#b5b5b5" opacity="1" filter="url(#b5)"/>
</g></g>
<rect x="300.0" y="453.7" width="1488.0" height="892.3" fill="none" stroke="#000" stroke-width="4.17"/>
<path d="M597.6 1346.0v-17.2M597.6 453.7v17.2M895.2 1346.0v-17.2M895.2 453.7v17.2M1192.8 1346.0v-17.2M1192.8 453.7v17.2M1490.4 1346.0v-17.2M1490.4 453.7v17.2M300.0 572.7h17.2M1788.0 572.7h-17.2M300.0 691.6h17.2M1788.0 691.6h-17.2M300.0 810.6h17.2M1788.0 810.6h-17.2M300.0 929.6h17.2M1788.0 929.6h-17.2M300.0 1048.6h17.2M1788.0 1048.6h-17.2M300.0 1167.5h17.2M1788.0 1167.5h-17.2M300.0 1286.5h17.2M1788.0 1286.5h-17.2" stroke="#000" stroke-width="2.1" fill="none"/>
<text transform="translate(255.90,471.38) scale(1.0020,1)" font-size="52.39">0</text>
<text transform="translate(190.66,590.35) scale(1.0836,1)" font-size="52.39">200</text>
<text transform="translate(190.87,709.32) scale(1.0811,1)" font-size="52.39">400</text>
<text transform="translate(190.66,828.30) scale(1.0836,1)" font-size="52.39">600</text>
<text transform="translate(191.24,947.27) scale(1.0767,1)" font-size="52.39">800</text>
<text transform="translate(159.36,1066.24) scale(1.0843,1)" font-size="52.39">1000</text>
<text transform="translate(159.36,1185.22) scale(1.0843,1)" font-size="52.39">1200</text>
<text transform="translate(159.36,1304.19) scale(1.0843,1)" font-size="52.39">1400</text>
<text transform="translate(283.71,1399.28) scale(1.0935,1)" font-size="52.39">0</text>
<text transform="translate(549.93,1399.28) scale(1.0815,1)" font-size="52.39">500</text>
<text transform="translate(830.45,1399.28) scale(1.0852,1)" font-size="52.39">1000</text>
<text transform="translate(1128.26,1399.28) scale(1.0825,1)" font-size="52.39">1500</text>
<text transform="translate(1427.16,1399.28) scale(1.0842,1)" font-size="52.39">2000</text>
<text transform="translate(507.50,361.20) scale(0.9737,1)" font-size="62.50">ABI</text>
<text transform="translate(606.16,361.20) scale(0.8461,1)" font-size="62.50">_</text>
<text transform="translate(636.79,361.20) scale(0.9818,1)" font-size="62.50">Rad</text>
<text transform="translate(751.45,361.20) scale(0.8434,1)" font-size="62.50">_</text>
<text transform="translate(781.55,361.20) scale(1.0867,1)" font-size="62.50">band08</text>
<text transform="translate(1008.57,361.20) scale(0.8542,1)" font-size="62.50">_</text>
<text transform="translate(1038.49,361.20) scale(0.9325,1)" font-size="62.50">GOES</text>
<text transform="translate(1208.16,361.20) scale(1.0176,1)" font-size="62.50">-</text>
<text transform="translate(1229.01,361.20) scale(1.0998,1)" font-size="62.50">Imager</text>
<text transform="translate(1442.66,361.20) scale(0.8488,1)" font-size="62.50">_</text>
<text transform="translate(1472.96,361.20) scale(1.0612,1)" font-size="62.50">b12</text>
<text transform="translate(927.19,431.90) scale(1.1225,1)" font-size="62.50">in</text>
<text transform="translate(1001.59,431.90) scale(0.9826,1)" font-size="62.50">File</text>
<text transform="translate(1121.10,431.90) scale(0.9600,1)" font-size="62.50">A</text>
<rect x="1881.0" y="180.25" width="72.0" height="1439.35" fill="url(#jet)" stroke="#000" stroke-width="4.17"/>
<text transform="translate(1966.34,295.68) scale(1.0942,1)" font-size="52.25">6</text>
<text transform="translate(1966.67,447.67) scale(1.0506,1)" font-size="53.00">5.4</text>
<text transform="translate(1967.78,599.68) scale(1.0677,1)" font-size="52.25">4.8</text>
<text transform="translate(1967.80,752.20) scale(1.0377,1)" font-size="53.00">4.2</text>
<text transform="translate(1966.46,903.68) scale(1.0708,1)" font-size="52.25">3.6</text>
<text transform="translate(1966.55,1055.68) scale(1.0302,1)" font-size="52.25">3</text>
<text transform="translate(1965.89,1208.20) scale(1.0615,1)" font-size="53.00">2.4</text>
<text transform="translate(1965.27,1359.68) scale(1.0593,1)" font-size="52.25">1.8</text>
<text transform="translate(1964.86,1512.20) scale(1.0228,1)" font-size="53.00">1.2</text>
<path d="M1953.0 278h-16.7M1953.0 430h-16.7M1953.0 582h-16.7M1953.0 734h-16.7M1953.0 886h-16.7M1953.0 1038h-16.7M1953.0 1190h-16.7M1953.0 1342h-16.7M1953.0 1494h-16.7" stroke="#000" stroke-width="2.1" fill="none"/>
<text transform="translate(2101.00,1633.57) rotate(-90) scale(1.1189,1)" font-size="52.00">milliWatts</text>
<text transform="translate(2101.00,1370.74) rotate(-90) scale(1.1086,1)" font-size="52.00">per</text>
<text transform="translate(2101.00,1271.81) rotate(-90) scale(1.1297,1)" font-size="52.00">meter</text>
<text transform="translate(2101.00,1104.36) rotate(-90) scale(1.0670,1)" font-size="52.00">squared</text>
<text transform="translate(2101.00,886.86) rotate(-90) scale(1.0874,1)" font-size="52.00">per</text>
<text transform="translate(2101.00,786.21) rotate(-90) scale(1.0940,1)" font-size="52.00">steradian</text>
<text transform="translate(2101.00,536.74) rotate(-90) scale(1.1086,1)" font-size="52.00">per</text>
<text transform="translate(2101.00,436.78) rotate(-90) scale(1.0932,1)" font-size="52.00">inverse</text>
<text transform="translate(2101.00,238.38) rotate(-90) scale(1.0960,1)" font-size="52.00">cm</text>
</svg>
</body></html>
